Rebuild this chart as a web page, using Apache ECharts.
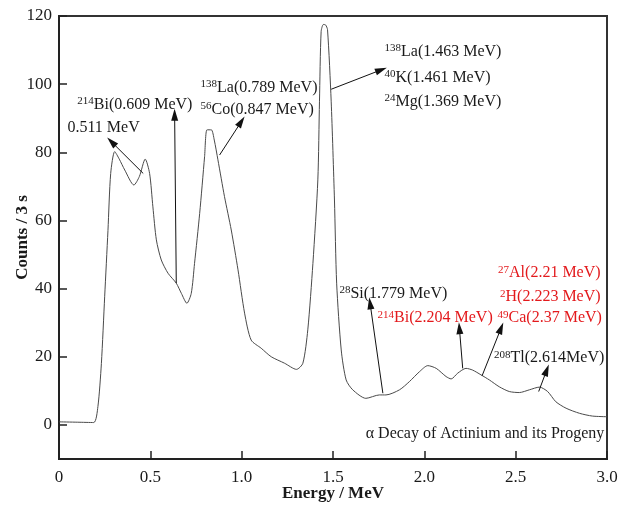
<!DOCTYPE html>
<html>
<head>
<meta charset="utf-8">
<script src="https://cdn.jsdelivr.net/npm/echarts@6/dist/echarts.min.js"></script>
<style>
  html, body { margin: 0; padding: 0; background: #fff; }
  #chart { width: 635px; height: 510px; }
</style>
</head>
<body>
<div id="chart"></div>
<script>
/* ---- Data ---- */
const energy = [0, 0.1, 0.19, 0.213, 0.232, 0.25, 0.268, 0.283, 0.305, 0.33,
  0.36, 0.41, 0.44, 0.472, 0.496, 0.514, 0.533, 0.56, 0.597, 0.642,
  0.67, 0.70, 0.724, 0.742, 0.77, 0.797, 0.81, 0.834, 0.85, 0.87,
  0.906, 0.943, 0.98, 1.016, 1.052, 1.107, 1.162, 1.235, 1.30, 1.335,
  1.362, 1.39, 1.417, 1.426, 1.435, 1.447, 1.459, 1.47, 1.49, 1.508,
  1.52, 1.545, 1.572, 1.608, 1.68, 1.754, 1.79, 1.864, 1.918, 1.973,
  2.019, 2.065, 2.119, 2.147, 2.183, 2.228, 2.264, 2.31, 2.356, 2.41,
  2.465, 2.52, 2.575, 2.63, 2.675, 2.72, 2.776, 2.85, 2.92, 3.0];
const counts = [0.9, 0.8, 0.7, 5.4, 18, 37.6, 57, 73.8, 80.2, 78,
  74.8, 70.4, 72.9, 78, 73.8, 64, 54.3, 48.4, 44.5, 41.6,
  38.6, 35.7, 38.6, 47.4, 62, 78.7, 86.6, 86.6, 83.6, 77.8,
  67, 57.2, 45.5, 32.8, 24.9, 22.5, 20, 18.1, 16.3, 18.1,
  27.9, 47.4, 71.9, 95, 115.4, 117.5, 117.4, 116, 95, 66,
  41.6, 22, 13.2, 10.3, 7.8, 8.8, 8.8, 10.3, 12.7, 15.6,
  17.4, 16.6, 14.2, 13.5, 15.2, 16.6, 16.1, 14.7, 13.2, 11.2,
  9.8, 9.5, 10.3, 11.1, 9.8, 6.8, 4.9, 3.4, 2.6, 2.4];

const xTicks = [0, 0.5, 1.0, 1.5, 2.0, 2.5, 3.0];
const yTicks = [0, 20, 40, 60, 80, 100, 120];

// arrows: [tailE, tailC, headE, headC]
const arrows = [
  [0.461, 73.8, 0.287, 83.1],
  [0.642, 41.6, 0.633, 91],
  [0.879, 79.2, 0.998, 89],
  [1.49, 98.5, 1.764, 104.2],
  [1.773, 9.3, 1.703, 35.7],
  [2.21, 16.6, 2.192, 28.4],
  [2.316, 14.4, 2.42, 28.4],
  [2.626, 9.8, 2.67, 16.1]
];

// peak labels: [sup, text, E, C, red?, anchor side]
const peakLabels = [
  ["", "0.511 MeV", 0.046, 87.1, false, "left"],
  ["214", "Bi(0.609 MeV)", 0.1, 93.9, false, "left"],
  ["138", "La(0.789 MeV)", 0.775, 98.9, false, "left"],
  ["56", "Co(0.847 MeV)", 0.775, 92.4, false, "left"],
  ["138", "La(1.463 MeV)", 1.782, 109.5, false, "left"],
  ["40", "K(1.461 MeV)", 1.782, 102, false, "left"],
  ["24", "Mg(1.369 MeV)", 1.782, 94.9, false, "left"],
  ["28", "Si(1.779 MeV)", 1.535, 38.6, false, "left"],
  ["214", "Bi(2.204 MeV)", 1.744, 31.3, true, "left"],
  ["27", "Al(2.21 MeV)", 2.965, 44.5, true, "right"],
  ["2", "H(2.223 MeV)", 2.965, 37.5, true, "right"],
  ["49", "Ca(2.37 MeV)", 2.972, 31.3, true, "right"],
  ["208", "Tl(2.614MeV)", 2.985, 19.6, false, "right"],
  ["", "\u03b1 Decay of Actinium and its Progeny", 2.985, -2.6, false, "right"]
];

/* ---- Chart ---- */
(function () {
  "use strict";
  const FONT = "'Liberation Serif', 'DejaVu Serif', serif";
  const INK = "#1a1a1a";
  const RED = "#e3191c";

  const chart = echarts.init(document.getElementById("chart"), null, { renderer: "canvas" });

  const points = energy.map((e, i) => [e, counts[i]]);

  const arrowData = arrows.map(a => [
    { coord: [a[0], a[1]] },
    { coord: [a[2], a[3]] }
  ]);

  const labelData = peakLabels.map(p => {
    const col = p[4] ? RED : INK;
    return {
      coord: [p[2], p[3]],
      label: {
        show: true,
        position: p[5] === "left" ? "right" : "left",
        distance: 0,
        formatter: (p[0] ? "{s|" + p[0] + "}" : "") + "{t|" + p[1] + "}",
        rich: {
          s: { fontFamily: FONT, fontSize: 11, color: col, verticalAlign: "top", lineHeight: 18 },
          t: { fontFamily: FONT, fontSize: 16, color: col, lineHeight: 18 }
        }
      }
    };
  });

  chart.setOption({
    animation: false,
    backgroundColor: "#fff",
    grid: {
      left: 59, right: 28, top: 16, bottom: 51,
      outerBoundsMode: "none", containLabel: false,
      show: true, borderColor: "#333", borderWidth: 2, backgroundColor: "transparent"
    },
    xAxis: {
      type: "value", min: 0, max: 3, interval: 0.5,
      name: "Energy / MeV", nameLocation: "middle", nameGap: 26, nameMoveOverlap: false,
      nameTextStyle: { fontFamily: FONT, fontSize: 17, fontWeight: "bold", color: INK },
      axisLine: { onZero: false, lineStyle: { color: "#222", width: 2 } },
      axisTick: { inside: true, length: 8, customValues: xTicks, lineStyle: { color: "#222", width: 1.5 } },
      axisLabel: {
        fontFamily: FONT, fontSize: 17, color: INK, margin: 10,
        customValues: xTicks,
        formatter: v => v === 0 ? "0" : v.toFixed(1)
      },
      splitLine: { show: false }
    },
    yAxis: {
      type: "value", min: -10, max: 120,
      name: "Counts / 3 s", nameLocation: "middle", nameGap: 28, nameRotate: 90, nameMoveOverlap: false,
      nameTextStyle: { fontFamily: FONT, fontSize: 17, fontWeight: "bold", color: INK },
      axisLine: { show: true, onZero: false, lineStyle: { color: "#222", width: 2 } },
      axisTick: { show: true, inside: true, length: 8, customValues: yTicks, lineStyle: { color: "#222", width: 1.5 } },
      axisLabel: { fontFamily: FONT, fontSize: 17, color: INK, margin: 7, customValues: yTicks },
      splitLine: { show: false }
    },
    series: [{
      type: "line",
      data: points,
      symbol: "none",
      smooth: 0.25,
      lineStyle: { color: "#4a4a4a", width: 1 },
      markLine: {
        silent: true,
        symbol: ["none", "triangle"],
        symbolSize: [7, 12],
        label: { show: false },
        lineStyle: { color: "#111", width: 1, type: "solid" },
        emphasis: { disabled: true },
        data: arrowData
      },
      markPoint: {
        silent: true,
        symbol: "circle",
        symbolSize: 0,
        itemStyle: { color: "transparent" },
        data: labelData
      }
    }]
  });
})();
</script>
</body>
</html>
